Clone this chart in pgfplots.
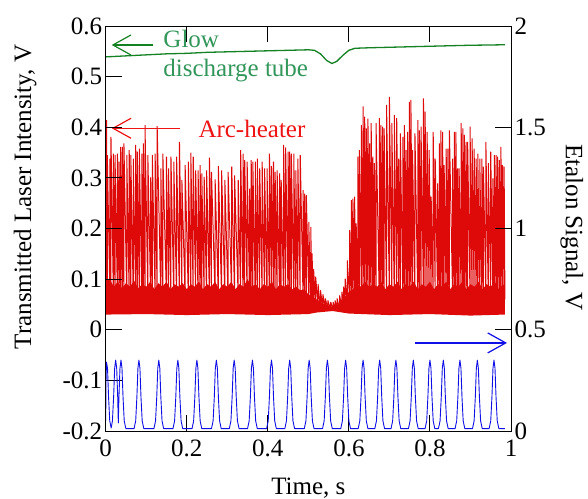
\documentclass[border=0pt]{standalone}
\usepackage{fontspec}
\setmainfont{Liberation Serif}
\usepackage{pgfplots}
\pgfplotsset{compat=1.18}
\usetikzlibrary{arrows.meta}

\definecolor{arcred}{RGB}{222,10,10}
\definecolor{arctext}{RGB}{238,20,20}
\definecolor{glowgreen}{RGB}{20,130,35}
\definecolor{glowtext}{RGB}{50,150,90}
\definecolor{etalonblue}{RGB}{15,15,230}
\newcommand{\fs}{\fontsize{25}{30}\selectfont}

\tikzset{
  barb/.style={line width=1.2pt, -{Straight Barb[length=18pt,width=20pt]}},
  tk/.style={black, line width=0.9pt},
}

\pgfplotsset{
  trace/.style={
    scale only axis, width=405.3pt, height=405pt,
    at={(0,0)}, anchor=south west,
    xmin=0, xmax=1,
    axis on top,
    major tick length=0pt,
    tick label style={font=\fs},
    xticklabel style={yshift=-5pt},
    label style={font=\fs},
    /pgf/number format/assume math mode=true,
    axis line style={line width=0.8pt},
  },
}

\begin{document}
\begin{tikzpicture}
\begin{axis}[trace,
  ymin=-0.2, ymax=0.6,
  ytick={-0.2,-0.1,0,0.1,0.2,0.3,0.4,0.5,0.6},
  ytick pos=left,
  xtick={0,0.2,0.4,0.6,0.8,1},
  xtick pos=both, xticklabel pos=lower,
  xlabel={Time, s},
  xlabel style={at={(axis description cs:0.5,-0.14)}, anchor=center},
  ylabel={Transmitted Laser Intensity, V},
  ylabel style={at={(axis description cs:-0.199,0.578)}, anchor=center},
  extra description/.code={
    \foreach \v in {0.125,0.25,0.375,0.5,0.625,0.75,0.875}
      {\draw[tk] (0,\v) -- ++(16pt,0);}
    \foreach \u in {0.2,0.4,0.6,0.8}
      {\draw[tk] (\u,0) -- ++(0,16pt); \draw[tk] (\u,1) -- ++(0,-16pt);}
  },
]
% arc-heater: dense noise band
\addplot[fill=arcred, draw=none] coordinates {
(0,0.095)(0.01,0.10)(0.02,0.085)(0.03,0.095)(0.04,0.082)(0.05,0.092)(0.06,0.085)(0.07,0.097)(0.08,0.082)(0.09,0.09)
(0.10,0.085)(0.11,0.095)(0.12,0.08)(0.13,0.092)(0.14,0.085)(0.15,0.095)(0.16,0.08)(0.17,0.09)(0.18,0.085)(0.19,0.092)
(0.20,0.08)(0.21,0.09)(0.22,0.085)(0.23,0.095)(0.24,0.08)(0.25,0.09)(0.26,0.085)(0.27,0.095)(0.28,0.08)(0.29,0.09)
(0.30,0.085)(0.31,0.095)(0.32,0.08)(0.33,0.09)(0.34,0.085)(0.35,0.10)(0.36,0.085)(0.37,0.09)(0.38,0.08)(0.39,0.09)
(0.40,0.085)(0.41,0.095)(0.42,0.08)(0.43,0.09)(0.44,0.085)(0.45,0.09)(0.46,0.08)(0.47,0.085)(0.48,0.078)(0.49,0.08)
(0.50,0.07)(0.51,0.065)(0.52,0.06)(0.53,0.055)(0.54,0.05)(0.55,0.048)(0.56,0.045)(0.57,0.048)(0.58,0.055)(0.59,0.065)
(0.60,0.075)(0.61,0.08)(0.62,0.09)(0.63,0.085)(0.64,0.095)(0.65,0.085)(0.66,0.09)(0.67,0.085)(0.68,0.095)(0.69,0.08)
(0.70,0.09)(0.71,0.085)(0.72,0.095)(0.73,0.08)(0.74,0.09)(0.75,0.085)(0.76,0.095)(0.77,0.08)(0.78,0.09)(0.79,0.085)
(0.80,0.095)(0.81,0.08)(0.82,0.09)(0.83,0.085)(0.84,0.095)(0.85,0.08)(0.86,0.09)(0.87,0.085)(0.88,0.095)(0.89,0.08)
(0.90,0.09)(0.91,0.085)(0.92,0.095)(0.93,0.08)(0.94,0.09)(0.95,0.085)(0.96,0.095)(0.97,0.08)(0.98,0.09)(0.985,0.085)
(0.985,0.03)(0.9,0.028)(0.8,0.031)(0.7,0.029)(0.6,0.032)(0.56,0.037)(0.52,0.034)(0.5,0.031)(0.4,0.029)(0.3,0.031)
(0.2,0.029)(0.1,0.031)(0,0.03)
} -- cycle;
% arc-heater: spikes
\addplot[arcred, line width=1pt, line join=bevel] coordinates {
(0.002,0.06)(0.002,0.414)(0.004,0.06)(0.004,0.345)(0.0106,0.06)(0.0106,0.338)(0.013,0.06)(0.013,0.381)
(0.019,0.06)(0.019,0.348)(0.023,0.06)(0.023,0.345)(0.029,0.06)(0.029,0.348)(0.033,0.06)(0.033,0.332)
(0.037,0.06)(0.037,0.361)(0.041,0.06)(0.041,0.361)(0.045,0.06)(0.045,0.368)(0.052,0.06)(0.052,0.345)
(0.058,0.06)(0.058,0.355)(0.062,0.06)(0.062,0.345)(0.068,0.06)(0.068,0.338)(0.074,0.06)(0.074,0.365)
(0.078,0.06)(0.078,0.352)(0.083,0.06)(0.083,0.358)(0.089,0.06)(0.089,0.348)(0.093,0.06)(0.093,0.368)
(0.097,0.06)(0.097,0.404)(0.104,0.06)(0.104,0.345)(0.111,0.06)(0.111,0.301)(0.115,0.06)(0.115,0.345)
(0.122,0.06)(0.122,0.348)(0.127,0.06)(0.127,0.402)(0.136,0.06)(0.136,0.319)(0.141,0.06)(0.141,0.348)
(0.150,0.06)(0.150,0.342)(0.155,0.06)(0.155,0.319)(0.161,0.06)(0.161,0.342)(0.168,0.06)(0.168,0.332)
(0.175,0.06)(0.175,0.342)(0.182,0.06)(0.182,0.371)(0.188,0.06)(0.188,0.296)(0.196,0.06)(0.196,0.325)
(0.204,0.06)(0.204,0.332)(0.210,0.06)(0.210,0.350)(0.216,0.06)(0.216,0.342)(0.222,0.06)(0.222,0.315)
(0.228,0.06)(0.228,0.315)(0.233,0.06)(0.233,0.325)(0.237,0.06)(0.237,0.309)(0.243,0.06)(0.243,0.302)
(0.249,0.06)(0.249,0.315)(0.256,0.06)(0.256,0.340)(0.261,0.06)(0.261,0.312)(0.270,0.06)(0.270,0.297)
(0.278,0.06)(0.278,0.323)(0.286,0.06)(0.286,0.315)(0.294,0.06)(0.294,0.296)(0.302,0.06)(0.302,0.312)
(0.311,0.06)(0.311,0.322)(0.318,0.06)(0.318,0.305)(0.327,0.06)(0.327,0.296)(0.333,0.06)(0.333,0.355)
(0.339,0.06)(0.339,0.348)(0.343,0.06)(0.343,0.335)(0.349,0.06)(0.349,0.332)(0.355,0.06)(0.355,0.279)
(0.359,0.06)(0.359,0.335)(0.363,0.06)(0.363,0.332)(0.369,0.06)(0.369,0.332)(0.374,0.06)(0.374,0.338)
(0.380,0.06)(0.380,0.319)(0.386,0.06)(0.386,0.332)(0.392,0.06)(0.392,0.319)(0.398,0.06)(0.398,0.319)
(0.404,0.06)(0.404,0.348)(0.409,0.06)(0.409,0.323)(0.414,0.06)(0.414,0.332)(0.418,0.06)(0.418,0.312)
(0.423,0.06)(0.423,0.315)(0.429,0.06)(0.429,0.309)(0.433,0.06)(0.433,0.296)(0.439,0.06)(0.439,0.365)
(0.444,0.06)(0.444,0.360)(0.450,0.06)(0.450,0.352)(0.454,0.06)(0.454,0.352)(0.458,0.06)(0.458,0.348)
(0.464,0.06)(0.464,0.348)(0.469,0.06)(0.469,0.315)(0.474,0.06)(0.474,0.338)(0.480,0.06)(0.480,0.345)
(0.487,0.06)(0.487,0.276)(0.491,0.06)(0.491,0.269)(0.495,0.06)(0.495,0.266)(0.501,0.06)(0.501,0.213)
(0.506,0.05)(0.506,0.203)(0.509,0.05)(0.509,0.151)(0.513,0.05)(0.513,0.120)(0.518,0.045)(0.518,0.105)
(0.524,0.045)(0.524,0.090)(0.530,0.04)(0.530,0.078)(0.536,0.04)(0.536,0.070)(0.542,0.04)(0.542,0.062)
(0.548,0.04)(0.548,0.058)(0.555,0.04)(0.555,0.055)(0.561,0.04)(0.561,0.055)(0.566,0.04)(0.566,0.058)
(0.571,0.04)(0.571,0.062)(0.577,0.04)(0.577,0.068)(0.583,0.045)(0.583,0.075)(0.587,0.045)(0.587,0.085)
(0.591,0.05)(0.591,0.101)(0.596,0.05)(0.596,0.137)(0.602,0.06)(0.602,0.197)(0.606,0.06)(0.606,0.256)
(0.610,0.06)(0.610,0.259)(0.614,0.06)(0.614,0.263)(0.618,0.06)(0.618,0.210)(0.622,0.06)(0.622,0.342)
(0.626,0.06)(0.626,0.355)(0.631,0.06)(0.631,0.404)(0.635,0.06)(0.635,0.441)(0.639,0.06)(0.639,0.421)
(0.643,0.06)(0.643,0.398)(0.647,0.06)(0.647,0.417)(0.651,0.06)(0.651,0.368)(0.655,0.06)(0.655,0.408)
(0.659,0.06)(0.659,0.342)(0.663,0.06)(0.663,0.329)(0.667,0.06)(0.667,0.408)(0.675,0.06)(0.675,0.418)
(0.679,0.06)(0.679,0.404)(0.683,0.06)(0.683,0.401)(0.687,0.06)(0.687,0.398)(0.693,0.06)(0.693,0.444)
(0.700,0.06)(0.700,0.460)(0.706,0.06)(0.706,0.408)(0.712,0.06)(0.712,0.424)(0.718,0.06)(0.718,0.418)
(0.723,0.06)(0.723,0.338)(0.727,0.06)(0.727,0.388)(0.733,0.06)(0.733,0.381)(0.737,0.06)(0.737,0.404)
(0.741,0.06)(0.741,0.355)(0.745,0.06)(0.745,0.391)(0.749,0.06)(0.749,0.450)(0.753,0.06)(0.753,0.454)
(0.757,0.06)(0.757,0.355)(0.763,0.06)(0.763,0.388)(0.770,0.06)(0.770,0.414)(0.774,0.06)(0.774,0.394)
(0.778,0.06)(0.778,0.401)(0.784,0.06)(0.784,0.457)(0.788,0.06)(0.788,0.431)(0.793,0.06)(0.793,0.391)
(0.798,0.06)(0.798,0.355)(0.803,0.06)(0.803,0.263)(0.808,0.06)(0.808,0.391)(0.813,0.06)(0.813,0.338)
(0.819,0.06)(0.819,0.289)(0.823,0.06)(0.823,0.368)(0.827,0.06)(0.827,0.394)(0.831,0.06)(0.831,0.391)
(0.835,0.06)(0.835,0.325)(0.840,0.06)(0.840,0.358)(0.844,0.06)(0.844,0.358)(0.848,0.06)(0.848,0.394)
(0.856,0.06)(0.856,0.338)(0.860,0.06)(0.860,0.391)(0.864,0.06)(0.864,0.391)(0.868,0.06)(0.868,0.319)
(0.872,0.06)(0.872,0.319)(0.877,0.06)(0.877,0.408)(0.881,0.06)(0.881,0.398)(0.885,0.06)(0.885,0.385)
(0.889,0.06)(0.889,0.371)(0.893,0.06)(0.893,0.371)(0.899,0.06)(0.899,0.401)(0.904,0.06)(0.904,0.378)
(0.909,0.06)(0.909,0.358)(0.914,0.06)(0.914,0.338)(0.918,0.06)(0.918,0.348)(0.923,0.06)(0.923,0.338)
(0.928,0.06)(0.928,0.338)(0.932,0.06)(0.932,0.322)(0.938,0.06)(0.938,0.371)(0.944,0.06)(0.944,0.329)
(0.950,0.06)(0.950,0.352)(0.955,0.06)(0.955,0.299)(0.959,0.06)(0.959,0.345)(0.963,0.06)(0.963,0.345)
(0.967,0.06)(0.967,0.342)(0.971,0.06)(0.971,0.335)(0.975,0.06)(0.975,0.361)(0.979,0.06)(0.979,0.325)
(0.983,0.06)(0.983,0.322)(0.985,0.06)
};
% glow discharge tube
\addplot[glowgreen, line width=1.3pt] coordinates {
(0,0.539)(0.05,0.541)(0.1,0.543)(0.15,0.545)(0.2,0.546)(0.25,0.548)(0.3,0.549)(0.35,0.550)(0.4,0.551)
(0.45,0.552)(0.5,0.553)(0.515,0.552)(0.53,0.545)(0.545,0.532)(0.558,0.526)(0.57,0.530)(0.585,0.542)
(0.60,0.552)(0.615,0.556)(0.65,0.557)(0.7,0.558)(0.75,0.559)(0.8,0.560)(0.85,0.561)(0.9,0.562)
(0.95,0.5625)(0.985,0.563)
};
\draw[glowgreen, barb] (axis cs:0.1175,0.5625) -- (axis cs:0.0148,0.5625);
\node[anchor=base west, inner sep=0, text=glowtext, font=\fs] at (axis cs:0.142,0.5585) {Glow};
\node[anchor=base west, inner sep=0, text=glowtext, font=\fs] at (axis cs:0.142,0.500) {discharge tube};
\draw[arctext, barb] (axis cs:0.183,0.398) -- (axis cs:0.015,0.398);
\node[anchor=base west, inner sep=0, text=arctext, font=\fs] at (axis cs:0.2285,0.380) {Arc-heater};
\end{axis}

\begin{axis}[trace,
  hide x axis,
  ymin=0, ymax=2, ytick={0,0.5,1,1.5,2},
  ytick pos=right, yticklabel pos=right,
  ylabel={Etalon Signal, V},
  every axis y label/.style={at={(axis description cs:1.15,0.503)}, rotate=-90, anchor=center, font=\fs},
  extra description/.code={
    \foreach \v in {0.25,0.5,0.75}
      {\draw[tk] (1,\v) -- ++(-16pt,0);}
  },
]
% etalon signal
\addplot[etalonblue, line width=0.9pt, line join=round] coordinates {
(0,0.05)(0.0008,0.25)(0.002,0.34)(0.0045,0.31)(0.007,0.17)(0.010,0.05)(0.0135,0.015)(0.0166,0.05)
(0.0196,0.17)(0.0221,0.31)(0.0246,0.35)(0.0271,0.31)(0.0296,0.17)(0.0311,0.04)(0.0327,0.17)(0.0352,0.31)
(0.0377,0.35)(0.0402,0.31)(0.0427,0.17)(0.0457,0.05)(0.0497,0.012)
(0.070,0.012)(0.074,0.05)(0.077,0.17)(0.0795,0.31)(0.082,0.35)(0.0845,0.31)(0.087,0.17)(0.090,0.05)(0.094,0.012)
(0.119,0.012)(0.123,0.05)(0.126,0.17)(0.1285,0.31)(0.131,0.35)(0.1335,0.31)(0.136,0.17)(0.139,0.05)(0.143,0.012)
(0.166,0.012)(0.170,0.05)(0.173,0.17)(0.1755,0.31)(0.178,0.35)(0.1805,0.31)(0.183,0.17)(0.186,0.05)(0.190,0.012)
(0.213,0.012)(0.217,0.05)(0.220,0.17)(0.2225,0.31)(0.225,0.35)(0.2275,0.31)(0.230,0.17)(0.233,0.05)(0.237,0.012)
(0.261,0.012)(0.265,0.05)(0.268,0.17)(0.2705,0.31)(0.273,0.35)(0.2755,0.31)(0.278,0.17)(0.281,0.05)(0.285,0.012)
(0.305,0.012)(0.309,0.05)(0.312,0.17)(0.3145,0.31)(0.317,0.35)(0.3195,0.31)(0.322,0.17)(0.325,0.05)(0.329,0.012)
(0.350,0.012)(0.354,0.05)(0.357,0.17)(0.3595,0.31)(0.362,0.35)(0.3645,0.31)(0.367,0.17)(0.370,0.05)(0.374,0.012)
(0.397,0.012)(0.401,0.05)(0.404,0.17)(0.4065,0.31)(0.409,0.35)(0.4115,0.31)(0.414,0.17)(0.417,0.05)(0.421,0.012)
(0.442,0.012)(0.446,0.05)(0.449,0.17)(0.4515,0.31)(0.454,0.35)(0.4565,0.31)(0.459,0.17)(0.462,0.05)(0.466,0.012)
(0.490,0.012)(0.494,0.05)(0.497,0.17)(0.4995,0.31)(0.502,0.35)(0.5045,0.31)(0.507,0.17)(0.510,0.05)(0.514,0.012)
(0.535,0.012)(0.539,0.05)(0.542,0.17)(0.5445,0.31)(0.547,0.35)(0.5495,0.31)(0.552,0.17)(0.555,0.05)(0.559,0.012)
(0.580,0.012)(0.584,0.05)(0.587,0.17)(0.5895,0.31)(0.592,0.35)(0.5945,0.31)(0.597,0.17)(0.600,0.05)(0.604,0.012)
(0.623,0.012)(0.627,0.05)(0.630,0.17)(0.6325,0.31)(0.635,0.35)(0.6375,0.31)(0.640,0.17)(0.643,0.05)(0.647,0.012)
(0.664,0.012)(0.668,0.05)(0.671,0.17)(0.6735,0.31)(0.676,0.35)(0.6785,0.31)(0.681,0.17)(0.684,0.05)(0.688,0.012)
(0.704,0.012)(0.708,0.05)(0.711,0.17)(0.7135,0.31)(0.716,0.35)(0.7185,0.31)(0.721,0.17)(0.724,0.05)(0.728,0.012)
(0.747,0.012)(0.751,0.05)(0.754,0.17)(0.7565,0.31)(0.759,0.35)(0.7615,0.31)(0.764,0.17)(0.767,0.05)(0.771,0.012)
(0.788,0.012)(0.792,0.05)(0.795,0.17)(0.7975,0.31)(0.800,0.35)(0.8025,0.31)(0.805,0.17)(0.808,0.05)(0.812,0.012)
(0.821,0.012)(0.825,0.05)(0.828,0.17)(0.8305,0.31)(0.833,0.35)(0.8355,0.31)(0.838,0.17)(0.841,0.05)(0.845,0.012)
(0.862,0.012)(0.866,0.05)(0.869,0.17)(0.8715,0.31)(0.874,0.35)(0.8765,0.31)(0.879,0.17)(0.882,0.05)(0.886,0.012)
(0.905,0.012)(0.909,0.05)(0.912,0.17)(0.9145,0.31)(0.917,0.35)(0.9195,0.31)(0.922,0.17)(0.925,0.05)(0.929,0.012)
(0.946,0.012)(0.950,0.05)(0.953,0.17)(0.9555,0.31)(0.958,0.35)(0.9605,0.31)(0.963,0.17)(0.966,0.05)(0.970,0.012)
(0.985,0.012)
};
\draw[etalonblue, barb] (axis cs:0.763,0.435) -- (axis cs:0.99,0.435);
\end{axis}
\pgfresetboundingbox
\path[use as bounding box] (-105.7pt,-67pt) rectangle (482.3pt,431pt);
\end{tikzpicture}
\end{document}
